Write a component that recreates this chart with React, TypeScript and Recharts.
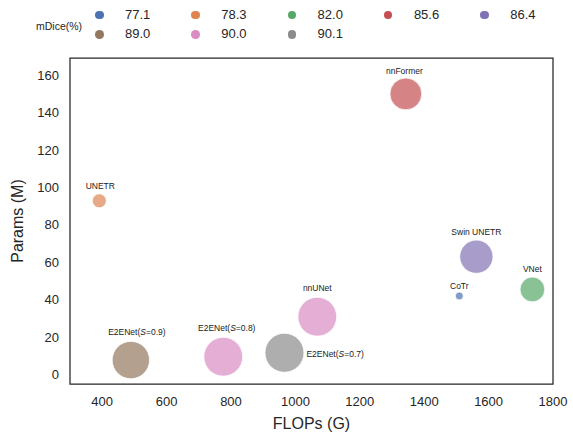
import React from "react";
import { ScatterChart, Scatter, XAxis, YAxis, ZAxis, ReferenceArea } from "recharts";

// one entry per model
const models = [
  "CoTr",
  "UNETR",
  "VNet",
  "nnFormer",
  "Swin UNETR",
  "E2ENet(S=0.9)",
  "nnUNet",
  "E2ENet(S=0.8)",
  "E2ENet(S=0.7)",
];
const flops = [1509, 391, 1736, 1343, 1562, 489, 1068, 776, 966];
const params = [41.9, 92.8, 45.4, 150.0, 62.9, 7.6, 30.8, 9.4, 11.5];
const mDice = [77.1, 78.3, 82.0, 85.6, 86.4, 89.0, 90.0, 90.0, 90.1];

// legend levels (hue groups)
const levels = ["77.1", "78.3", "82.0", "85.6", "86.4", "89.0", "90.0", "90.1"];
const palette = ["#4C72B0", "#DD8452", "#55A868", "#C44E52", "#8172B3", "#937860", "#DA8BC3", "#8C8C8C"];

const xTicks = [400, 600, 800, 1000, 1200, 1400, 1600, 1800];
const yTicks = [0, 20, 40, 60, 80, 100, 120, 140, 160];

const X_DOMAIN: [number, number] = [300, 1800];
const Y_DOMAIN: [number, number] = [-5.2, 169.2];

const INK = "#262626";
const FONT = '"Liberation Sans", Arial, sans-serif';

// label placement relative to bubble centre (px)
const labelPos: Record<string, { dx: number; dy: number; anchor: "middle" | "start" }> = {
  CoTr: { dx: 0, dy: -7, anchor: "middle" },
  UNETR: { dx: 1, dy: -12, anchor: "middle" },
  VNet: { dx: 0, dy: -17, anchor: "middle" },
  nnFormer: { dx: -1.5, dy: -19.5, anchor: "middle" },
  "Swin UNETR": { dx: 0, dy: -21.5, anchor: "middle" },
  "E2ENet(S=0.9)": { dx: 6, dy: -25.5, anchor: "middle" },
  nnUNet: { dx: 0, dy: -25.5, anchor: "middle" },
  "E2ENet(S=0.8)": { dx: 3.5, dy: -25.5, anchor: "middle" },
  "E2ENet(S=0.7)": { dx: 22, dy: 4.5, anchor: "start" },
};

const points = models.map((name, i) => ({
  name,
  x: flops[i],
  y: params[i],
  z: mDice[i],
  level: mDice[i].toFixed(1),
}));

function renderName(name: string) {
  const m = name.match(/^(.*\()S(=.*)$/);
  if (!m) return name;
  return (
    <>
      <tspan>{m[1]}</tspan>
      <tspan fontStyle="italic">S</tspan>
      <tspan>{m[2]}</tspan>
    </>
  );
}

const LabelShape = (props: any) => {
  const { cx, cy, payload } = props;
  if (cx == null || cy == null) return null;
  const p = labelPos[payload.name];
  return (
    <text
      x={cx + p.dx}
      y={cy + p.dy}
      textAnchor={p.anchor}
      fontSize={8.5}
      fontFamily={FONT}
      fill="#1a1a1a"
    >
      {renderName(payload.name)}
    </text>
  );
};

function LegendBox() {
  return (
    <div style={{ position: "absolute", left: 0, top: 0, width: 573, height: 50, fontFamily: FONT, color: INK }}>
      <div style={{ position: "absolute", left: 36, top: 20, fontSize: 10.5, lineHeight: "13px" }}>mDice(%)</div>
      {levels.map((lv, i) => {
        const col = i % 5;
        const row = Math.floor(i / 5);
        const cx = 99.3 + col * 96.3;
        const cy = 15 + row * 19.3;
        return (
          <React.Fragment key={lv}>
            <div
              style={{
                position: "absolute",
                left: cx - 4.3,
                top: cy - 4.3,
                width: 8.6,
                height: 8.6,
                borderRadius: "50%",
                background: palette[i],
              }}
            />
            <div style={{ position: "absolute", left: cx + 25.7, top: cy - 8.5, fontSize: 13, lineHeight: "16px" }}>
              {lv}
            </div>
          </React.Fragment>
        );
      })}
    </div>
  );
}

export default function App() {
  return (
    <div style={{ position: "fixed", left: 0, top: 0, width: 573, height: 433, background: "#fff" }}>
      <ScatterChart width={573} height={433} margin={{ top: 58, right: 20, left: 10, bottom: 4 }}>
        <XAxis
          type="number"
          dataKey="x"
          domain={X_DOMAIN}
          ticks={xTicks}
          allowDataOverflow
          tickLine={false}
          axisLine={false}
          height={45}
          tickMargin={7}
          tick={{ fontSize: 13, fill: INK, fontFamily: FONT }}
          label={({ viewBox }: any) => (
            <text
              x={viewBox.x + viewBox.width / 2}
              y={428.5}
              textAnchor="middle"
              fontSize={16}
              fontFamily={FONT}
              fill={INK}
            >
              FLOPs (G)
            </text>
          )}
        />
        <YAxis
          type="number"
          dataKey="y"
          domain={Y_DOMAIN}
          ticks={yTicks}
          allowDataOverflow
          tickLine={false}
          axisLine={false}
          width={60}
          tickMargin={5}
          tick={{ fontSize: 13, fill: INK, fontFamily: FONT }}
          label={({ viewBox }: any) => {
            const cy = viewBox.y + viewBox.height / 2;
            return (
              <text
                x={22.5}
                y={cy}
                transform={`rotate(-90, 22.5, ${cy})`}
                textAnchor="middle"
                fontSize={16}
                fontFamily={FONT}
                fill={INK}
              >
                Params (M)
              </text>
            );
          }}
        />
        <ZAxis type="number" dataKey="z" domain={[77.1, 90.1]} range={[50, 1195]} />
        <ReferenceArea
          x1={X_DOMAIN[0]}
          x2={X_DOMAIN[1]}
          y1={Y_DOMAIN[0]}
          y2={Y_DOMAIN[1]}
          ifOverflow="visible"
          fill="none"
          stroke={INK}
          strokeWidth={1.25}
        />
        {levels.map((lv, i) => (
          <Scatter
            key={lv}
            name={lv}
            data={points.filter((p) => p.level === lv)}
            fill={palette[i]}
            fillOpacity={0.7}
            stroke="#ffffff"
            strokeWidth={0.8}
            isAnimationActive={false}
          />
        ))}
        <Scatter data={points} shape={LabelShape} isAnimationActive={false} legendType="none" />
      </ScatterChart>
      <LegendBox />
    </div>
  );
}
